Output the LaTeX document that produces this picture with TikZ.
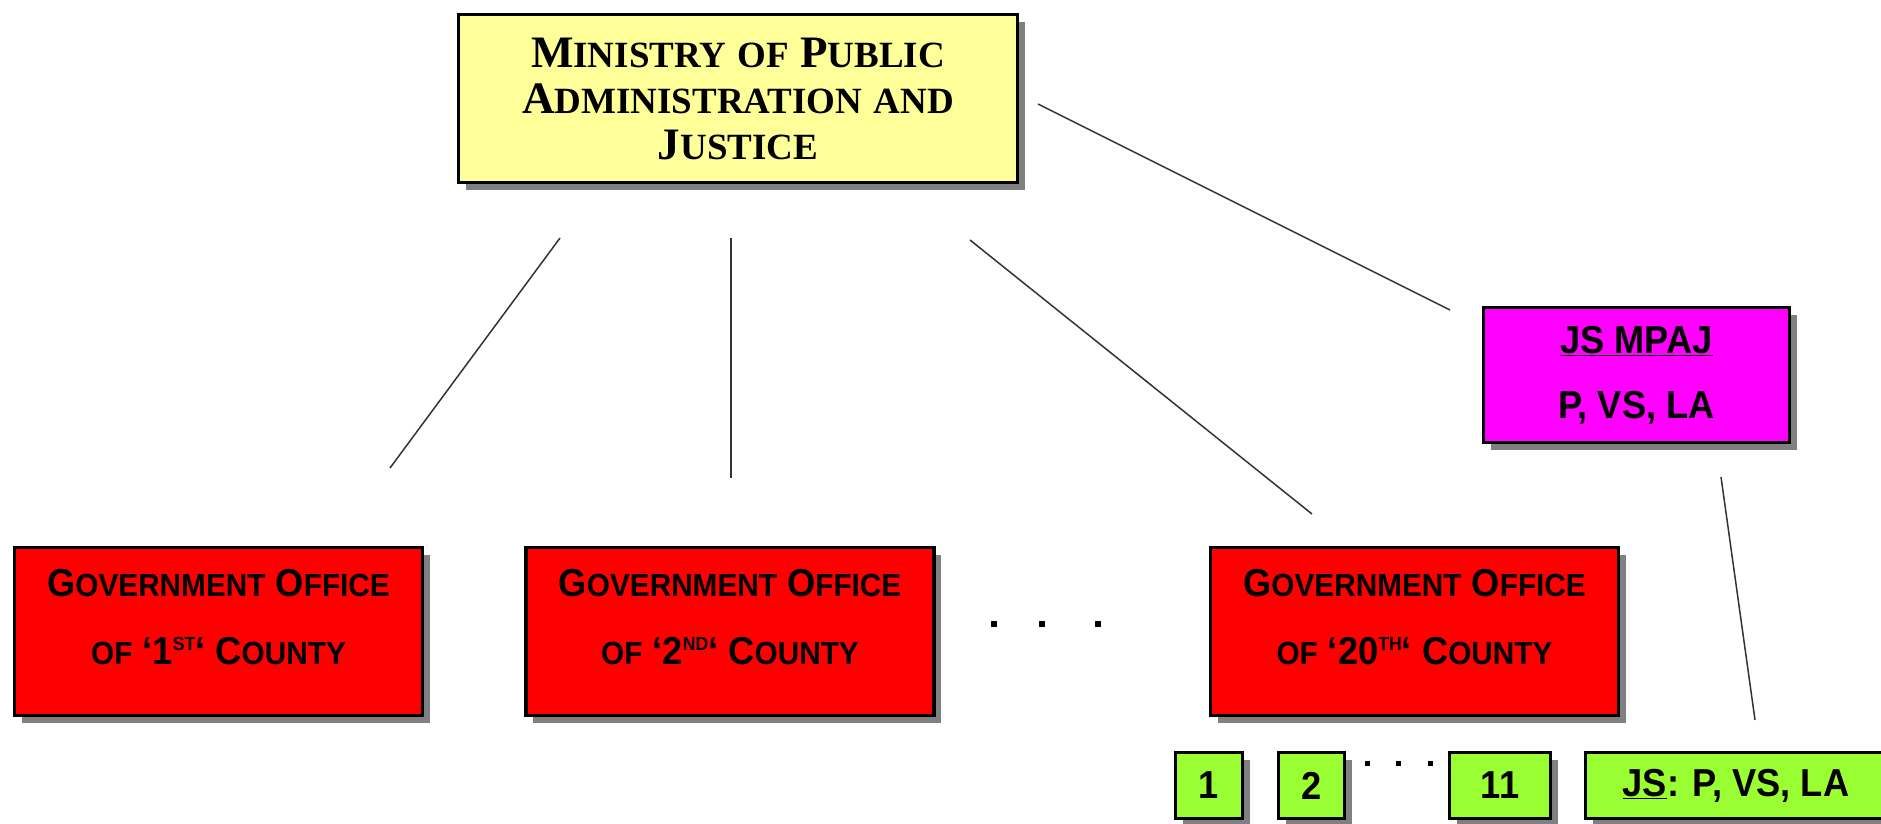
\documentclass[tikz,border=0pt]{standalone}
\usepackage{fontspec}
\usetikzlibrary{shadows}
\newfontfamily\minfont{Liberation Serif}
\newfontfamily\govfont[FakeStretch=0.93]{Liberation Sans}
\definecolor{minyellow}{RGB}{255, 255, 153}
\definecolor{govred}{RGB}{255, 0, 0}
\definecolor{secmagenta}{RGB}{255, 0, 255}
\definecolor{unitgreen}{RGB}{153, 255, 51}
\definecolor{shadowgrey}{RGB}{128, 128, 128}
% fake small caps: big first letter, smaller rest
\newcommand\minsc[2]{{\fontsize{45pt}{46pt}\selectfont#1}%
    {\fontsize{37pt}{46pt}\selectfont#2}}
\newcommand\govsc[2]{{\fontsize{39pt}{68pt}\selectfont#1}%
    {\fontsize{32pt}{68pt}\selectfont#2}}
\newcommand\ordsup[1]{\raisebox{14pt}{\fontsize{19pt}{19pt}\selectfont#1}}
\newcommand\lowgap{\rule[-30pt]{0pt}{0pt}} % lifts the office text a bit
\tikzset{
    orgbox/.style={draw, line width=3.5pt, align=center, inner sep=0pt,
        drop shadow={shadow xshift=7pt, shadow yshift=-7pt,
            fill=shadowgrey, opacity=1}},
    ministrybox/.style={orgbox, fill=minyellow, minimum width=559pt,
        minimum height=168pt,
        font=\minfont\bfseries\fontsize{45pt}{46pt}\selectfont},
    officebox/.style={orgbox, fill=govred, minimum width=408pt,
        minimum height=168pt,
        font=\govfont\bfseries\fontsize{39pt}{68pt}\selectfont},
    secbox/.style={orgbox, fill=secmagenta, minimum width=306pt,
        minimum height=135pt,
        font=\govfont\bfseries\fontsize{39pt}{65pt}\selectfont},
    unitbox/.style={orgbox, fill=unitgreen, minimum height=66pt,
        font=\govfont\bfseries\fontsize{39pt}{39pt}\selectfont},
    link/.style={line width=1.5pt, black!80},
}

\begin{document}
\begin{tikzpicture}[x=1pt, y=-1pt]
        \useasboundingbox (0, 0) rectangle (1881, 823);

        \node[ministrybox] (ministry) at (738, 98.5)
            {\minsc{M}{INISTRY} \minsc{}{OF} \minsc{P}{UBLIC}\\
             \minsc{A}{DMINISTRATION} \minsc{}{AND}\\
             \minsc{J}{USTICE}};
        \foreach \pos/\name/\num/\ord in {218.5/office1/1/ST,
                730/office2/2/ND, 1414.5/office20/20/TH}{
            \node[officebox] (\name) at (\pos, 631.5)
                {\govsc{G}{OVERNMENT} \govsc{O}{FFICE}\\
                 \govsc{}{OF} ‘\num\ordsup{\ord}‘ \govsc{C}{OUNTY}\lowgap};
        }
        \node[secbox] (jsmpaj) at (1636.5, 375)
            {\underline{JS MPAJ}\\ P, VS, LA};
        \foreach \pos/\boxw/\name/\txt in {1209/67/unit1/1, 1311.5/66/unit2/2,
                1500/101/unit11/11}{
            \node[unitbox, minimum width=\boxw pt] (\name) at (\pos, 785.5)
                {\txt};
        }
        \node[unitbox, minimum width=301pt] (jsunit) at (1736, 785.5)
            {\underline{JS}: P, VS, LA};

        % loose ends of the connectors
        \coordinate (minleft) at (560, 238);
        \coordinate (minmid) at (731, 238);
        \coordinate (minright) at (970, 240);
        \coordinate (minside) at (1038, 104);
        \coordinate (office1top) at (390, 468);
        \coordinate (office2top) at (731, 478);
        \coordinate (office20top) at (1312, 514);
        \coordinate (jsmpajtop) at (1450, 310);
        \coordinate (jsmpajbot) at (1721, 477);
        \coordinate (jsunittop) at (1755, 720);
        \foreach \a/\b in {minleft/office1top, minmid/office2top,
                minright/office20top, minside/jsmpajtop, jsmpajbot/jsunittop}{
            \draw[link] (\a) -- (\b);
        }

        \foreach \x in {994, 1042, 1098}{
            \fill (\x - 3, 621) rectangle ++(6, 6); % dots between offices
        }
        \foreach \x in {1367, 1398, 1430}{
            \fill (\x - 2.5, 760.5) rectangle ++(5, 5); % dots between units
        }
    \end{tikzpicture}
\end{document}
